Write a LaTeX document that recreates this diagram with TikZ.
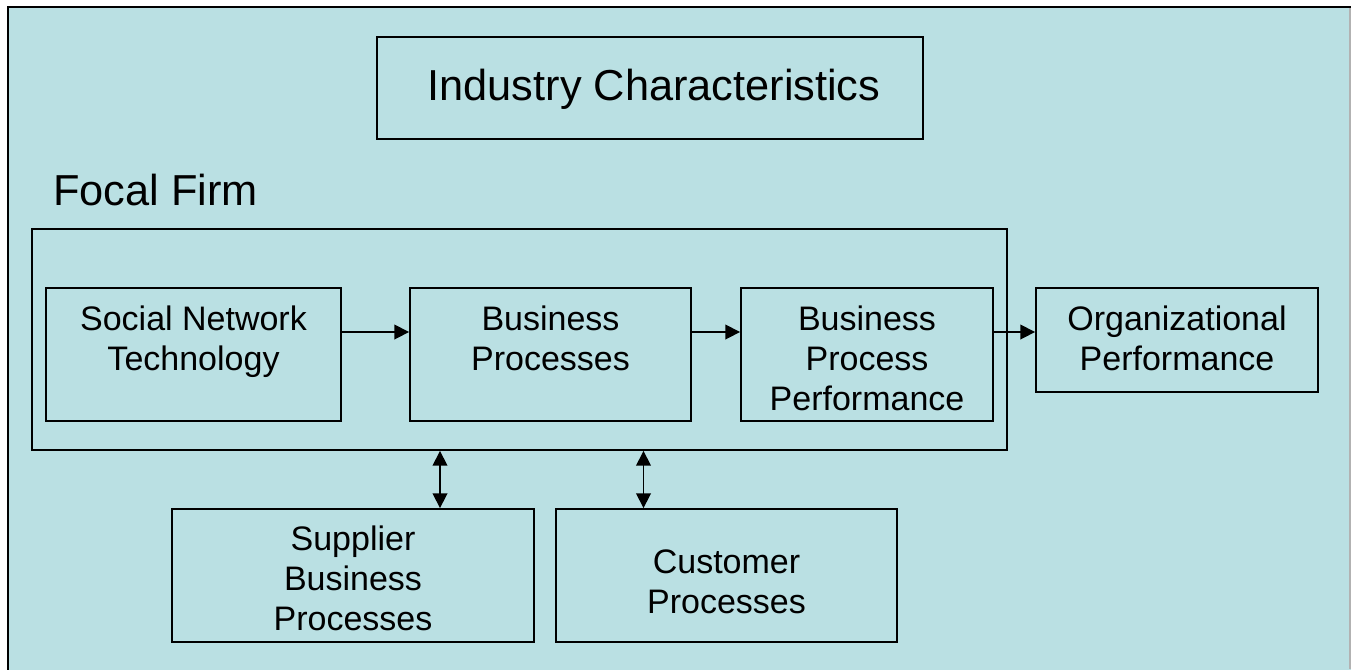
\documentclass[tikz,border=0pt]{standalone}
\usepackage{fontspec}
\setmainfont{Liberation Sans}
\usetikzlibrary{arrows.meta}
\definecolor{bgteal}{RGB}{186,224,227}
\begin{document}
\begin{tikzpicture}[x=0.75pt,y=-0.75pt,
  box/.style={draw=black, line width=1.4pt, inner sep=0pt},
  boxtext/.style={align=center, inner sep=0pt, font=\fontsize{25.5}{30}\selectfont},
  bigtext/.style={inner sep=0pt, font=\fontsize{32.5}{39}\selectfont},
  conn/.style={line width=1.2pt, -{Triangle[length=11pt,width=11pt]}},
  biconn/.style={line width=1.2pt, {Triangle[length=11pt,width=11pt]}-{Triangle[length=11pt,width=11pt]}}]
\useasboundingbox (0,0) rectangle (1351,669);
\fill[white] (0,0) rectangle (1351,669);
\draw[fill=bgteal, line width=1.6pt] (8,7) rectangle (1353,690);
\draw[gray!60, line width=0.8pt] (1350,8) -- (1350,669);
% boxes
\node[box, minimum width=409.5pt, minimum height=76.5pt] (ind) at (650,88) {};
\node[box, minimum width=731.25pt, minimum height=165.75pt] (focal) at (519.5,339.5) {};
\node[box, minimum width=221.25pt, minimum height=99.75pt] (snt) at (193.5,354.5) {};
\node[box, minimum width=210.75pt, minimum height=99.75pt] (bp) at (550.5,354.5) {};
\node[box, minimum width=189pt, minimum height=99.75pt] (bpp) at (867,354.5) {};
\node[box, minimum width=211.5pt, minimum height=78pt] (org) at (1177,340) {};
\node[box, minimum width=271.5pt, minimum height=99.75pt] (sup) at (353,575.5) {};
\node[box, minimum width=255.75pt, minimum height=99.75pt] (cus) at (726.5,575.5) {};
% texts
\node[bigtext, anchor=base] (ind-t) at (654,100) {Industry Characteristics};
\node[bigtext, anchor=base west] (focal-t) at (53,205) {Focal Firm};
\node[boxtext] (snt-t) at (193.5,342) {\strut Social Network\\Technology\strut};
\node[boxtext] (bp-t) at (550.5,342) {\strut Business\\Processes\strut};
\node[boxtext] (bpp-t) at (867,362) {\strut Business\\Process\\Performance\strut};
\node[boxtext] (org-t) at (1177,342) {\strut Organizational\\Performance\strut};
\node[boxtext] (sup-t) at (353,582) {\strut Supplier\\Business\\Processes\strut};
\node[boxtext] (cus-t) at (726.5,585) {\strut Customer\\Processes\strut};
% connectors
\coordinate (row) at (0,332);
\coordinate (colA) at (440,0);
\coordinate (colB) at (643.5,0);
\draw[conn] (snt.east |- row) -- (bp.west |- row);
\draw[conn] (bp.east |- row) -- (bpp.west |- row);
\draw[conn] (bpp.east |- row) -- (org.west |- row);
\draw[biconn] (focal.south -| colA) -- (sup.north -| colA);
\draw[biconn] (focal.south -| colB) -- (cus.north -| colB);
\end{tikzpicture}
\end{document}
